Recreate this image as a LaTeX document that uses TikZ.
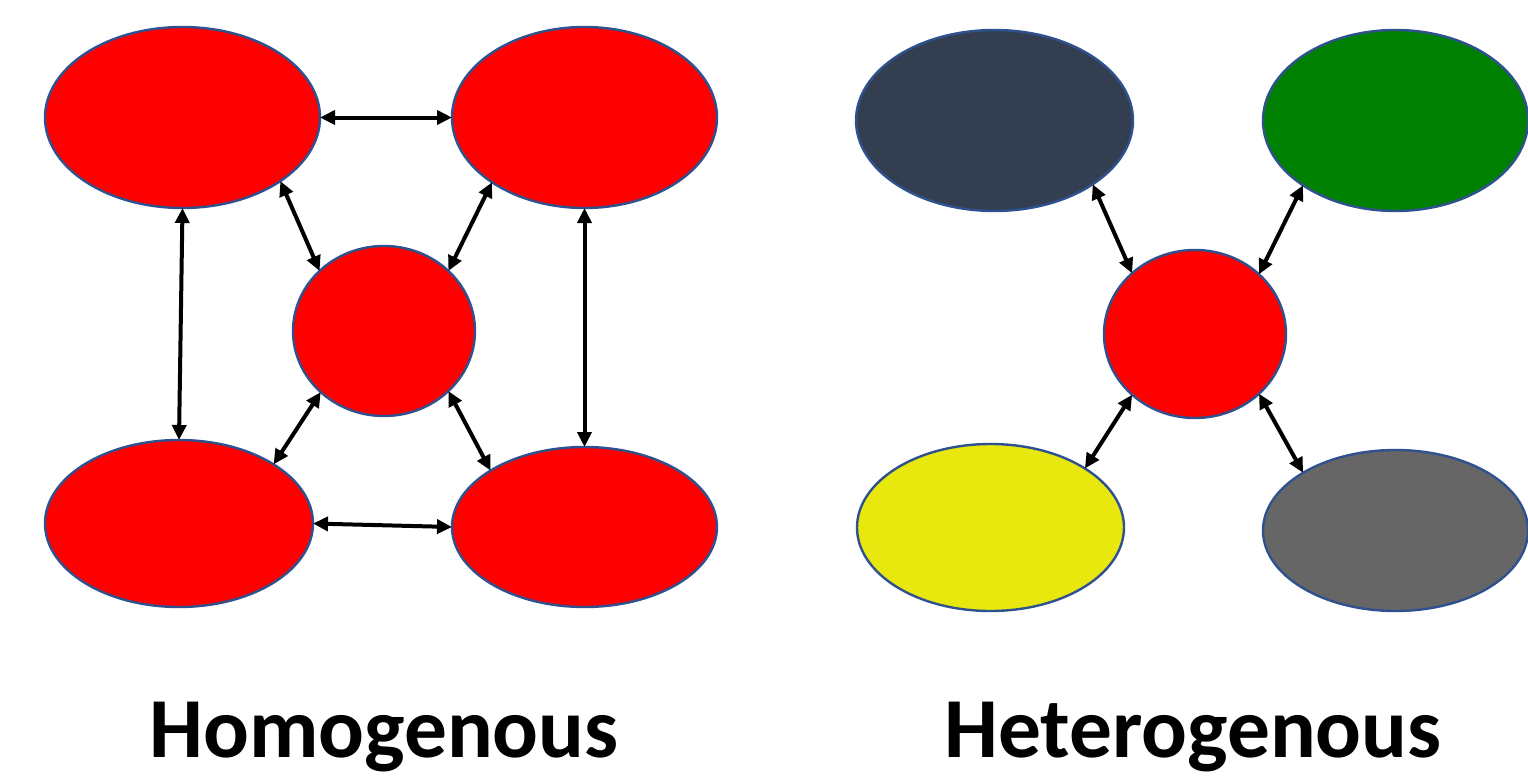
\documentclass[tikz,border=0pt]{standalone}
\usepackage{fontspec}
\setmainfont{Carlito}
\usetikzlibrary{shapes.geometric,arrows.meta}
\definecolor{rimblue}{RGB}{47,82,143}
\definecolor{navyfill}{RGB}{51,63,80}
\definecolor{greenfill}{RGB}{0,128,0}
\definecolor{yellowfill}{RGB}{232,232,15}
\definecolor{greyfill}{RGB}{102,102,102}
\tikzset{
  blob/.style={ellipse, draw=rimblue, line width=1.2pt, inner sep=0pt, outer sep=0pt},
  link/.style={line width=2pt, black, {Triangle[length=7.5pt,width=7pt]}-{Triangle[length=7.5pt,width=7pt]}},
  title/.style={anchor=base, font=\bfseries\fontsize{42.7pt}{50pt}\selectfont}
}
\begin{document}
\begin{tikzpicture}[x=0.5pt,y=-0.5pt]
\useasboundingbox (0,0) rectangle (1528,776);

% homogeneous group
\node[blob, fill=red, minimum width=137.5pt, minimum height=90.5pt] (tl) at (182.5,117.5) {};
\node[blob, fill=red, minimum width=132.5pt, minimum height=90.5pt] (tr) at (584.5,117.5) {};
\node[blob, fill=red, minimum width=91pt, minimum height=85pt] (mc) at (384,331) {};
\node[blob, fill=red, minimum width=134pt, minimum height=83.5pt] (bl) at (179,523.5) {};
\node[blob, fill=red, minimum width=132.5pt, minimum height=80pt] (br) at (584.5,527) {};

\draw[link] (tl.0) -- (tr.180);
\draw[link] (tl.-33) -- (mc.137);
\draw[link] (tr.-145) -- (mc.43);
\draw[link] (tl.-90) -- (bl.90);
\draw[link] (tr.-90) -- (br.90);
\draw[link] (mc.-136) -- (bl.32);
\draw[link] (mc.-43) -- (br.149);
\draw[link] (bl.0) -- (br.180);

% heterogeneous group
\node[blob, fill=navyfill, minimum width=138.5pt, minimum height=90.5pt] (nv) at (994.5,120.5) {};
\node[blob, fill=greenfill, minimum width=132.5pt, minimum height=90.5pt] (gn) at (1395.5,120.5) {};
\node[blob, fill=red, minimum width=91pt, minimum height=84pt] (hc) at (1195,334) {};
\node[blob, fill=yellowfill, minimum width=133.5pt, minimum height=83.5pt] (yl) at (990.5,527.5) {};
\node[blob, fill=greyfill, minimum width=132.5pt, minimum height=80.5pt] (gy) at (1395.5,530.5) {};

\draw[link] (nv.-33.5) -- (hc.136);
\draw[link] (gn.-145.5) -- (hc.43);
\draw[link] (hc.-136) -- (yl.32);
\draw[link] (hc.-43) -- (gy.148);

% captions
\node[title] (homo) at (384,757) {Homogenous};
\node[title] (hetero) at (1193,757) {Heterogenous};
\end{tikzpicture}
\end{document}
